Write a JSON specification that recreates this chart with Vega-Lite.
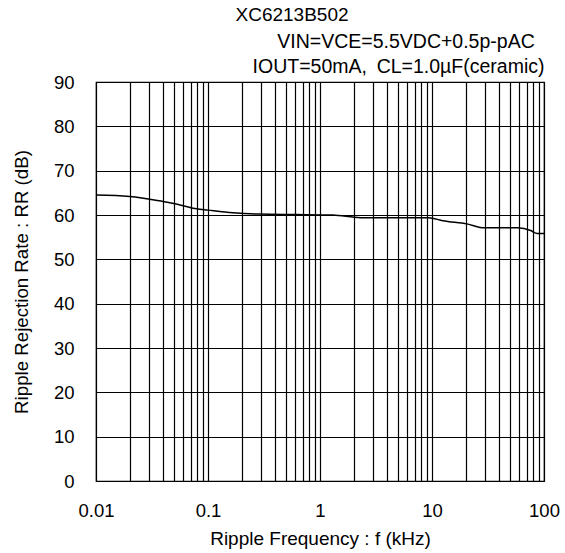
{
  "$schema": "https://vega.github.io/schema/vega-lite/v6.json",
  "width": 448,
  "height": 399,
  "autosize": {"type": "none"},
  "padding": {"left": 96, "top": 82, "right": 21, "bottom": 72},
  "background": "white",
  "config": {
    "font": "Liberation Sans",
    "view": {"stroke": "#000", "strokeWidth": 1.2},
    "axis": {"labelColor": "#000", "titleColor": "#000", "titleFontWeight": "normal"}
  },
  "title": {
    "text": "XC6213B502",
    "anchor": "middle",
    "dx": -28,
    "fontSize": 19,
    "fontWeight": "normal",
    "color": "#000",
    "offset": 6
  },
  "data": {
    "values": [
      {"f": 0.01, "rr": 64.5},
      {"f": 0.02, "rr": 64.2},
      {"f": 0.037, "rr": 63.2},
      {"f": 0.06, "rr": 62.1},
      {"f": 0.079, "rr": 61.4},
      {"f": 0.1, "rr": 61.1},
      {"f": 0.167, "rr": 60.5},
      {"f": 0.29, "rr": 60.2},
      {"f": 0.6, "rr": 60.1},
      {"f": 1.3, "rr": 60.0},
      {"f": 2.3, "rr": 59.4},
      {"f": 5, "rr": 59.4},
      {"f": 9.3, "rr": 59.4},
      {"f": 12.5, "rr": 58.7},
      {"f": 20.5, "rr": 58.0},
      {"f": 29.5, "rr": 57.1},
      {"f": 58, "rr": 57.1},
      {"f": 76, "rr": 56.5},
      {"f": 87, "rr": 55.8},
      {"f": 100, "rr": 55.8}
    ]
  },
  "resolve": {"scale": {"x": "shared", "y": "shared"}, "axis": {"x": "independent"}},
  "layer": [
    {
      "mark": {"type": "line", "color": "#000", "strokeWidth": 1.5, "interpolate": "monotone"},
      "encoding": {
        "x": {
          "field": "f",
          "type": "quantitative",
          "scale": {"type": "log", "domain": [0.01, 100], "nice": false},
          "axis": {
            "orient": "bottom",
            "values": [0.01,0.02,0.03,0.04,0.05,0.06,0.07,0.08,0.09,0.1,0.2,0.3,0.4,0.5,0.6,0.7,0.8,0.9,1,2,3,4,5,6,7,8,9,10,20,30,40,50,60,70,80,90,100],
            "labelExpr": "indexof([0.01,0.1,1,10,100], datum.value) >= 0 ? format(datum.value, '~g') : ''",
            "labelOverlap": false,
            "labelFlush": false,
            "labelBound": false,
            "labelFontSize": 18.5,
            "labelPadding": 20,
            "ticks": false,
            "domain": false,
            "grid": true,
            "gridColor": "#000",
            "gridOpacity": 1,
            "gridWidth": 1.2,
            "title": "Ripple Frequency : f (kHz)",
            "titleFontSize": 19,
            "titlePadding": 10
          }
        },
        "y": {
          "field": "rr",
          "type": "quantitative",
          "scale": {"domain": [0, 90], "nice": false},
          "axis": {
            "values": [0,10,20,30,40,50,60,70,80,90],
            "labelFontSize": 18.5,
            "labelPadding": 22,
            "ticks": false,
            "domain": false,
            "grid": true,
            "gridColor": "#000",
            "gridOpacity": 1,
            "gridWidth": 1.2,
            "title": "Ripple Rejection Rate : RR (dB)",
            "titleFontSize": 18.7,
            "titlePadding": 22
          }
        }
      }
    },
    {
      "mark": {"type": "line", "opacity": 0},
      "encoding": {
        "x": {
          "field": "f",
          "type": "quantitative",
          "scale": {"type": "log", "domain": [0.01, 100], "nice": false},
          "axis": {
            "orient": "top",
            "labels": false,
            "ticks": false,
            "domain": false,
            "grid": false,
            "title": ["VIN=VCE=5.5VDC+0.5p-pAC\u2002\u200b", "IOUT=50mA,\u2002CL=1.0µF(ceramic)"],
            "titleAnchor": "end",
            "titleAlign": "right",
            "titleFontSize": 19.5,
            "titleLineHeight": 25,
            "titlePadding": 6
          }
        },
        "y": {
          "field": "rr",
          "type": "quantitative",
          "scale": {"domain": [0, 90], "nice": false},
          "axis": {
            "values": [0,10,20,30,40,50,60,70,80,90],
            "labelFontSize": 18.5,
            "labelPadding": 22,
            "ticks": false,
            "domain": false,
            "grid": true,
            "gridColor": "#000",
            "gridOpacity": 1,
            "gridWidth": 1.2,
            "title": "Ripple Rejection Rate : RR (dB)",
            "titleFontSize": 18.7,
            "titlePadding": 22
          }
        }
      }
    }
  ]
}
